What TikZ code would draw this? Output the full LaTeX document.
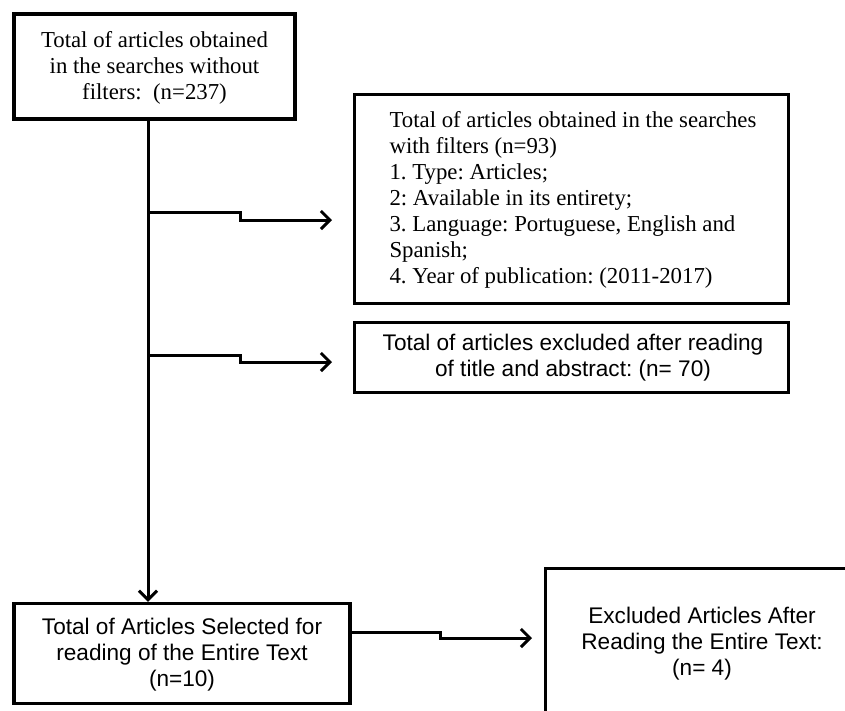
\documentclass[tikz,border=0pt]{standalone}
\usepackage{fontspec}
\setmainfont{Liberation Serif}
\newfontfamily\arialf{Liberation Sans}
\usetikzlibrary{arrows.meta}
\tikzset{
  box/.style={draw=black, fill=white, rectangle, inner sep=0pt, line width=3pt},
  serift/.style={font=\frenchspacing\fontsize{22.8}{26}\selectfont, align=center},
  sanst/.style={font=\frenchspacing\arialf\fontsize{22.6}{26}\selectfont, align=center},
  conn/.style={line width=3pt, line join=miter},
  arr/.style={conn, -{Straight Barb[length=9pt,width=18pt,line width=3pt]}},
}
\begin{document}
\begin{tikzpicture}[x=1pt,y=-1pt]
\useasboundingbox (0,0) rectangle (845,710);
\clip (0,0) rectangle (845,710);
\node[box, line width=4pt, minimum width=281pt, minimum height=105pt] (b1) at (154.5,66.5) {};
\node[serift] (t1) at (154.5,68) {Total of articles obtained\\in the searches without\\filters:\ \ (n=237)};

\node[box, minimum width=434pt, minimum height=209pt] (b2) at (571,198.5) {};
\node[serift, align=left, anchor=west] (t2) at (386,200) {Total of articles obtained in the searches\\with filters (n=93)\\1. Type: Articles;\\2: Available in its entirety;\\3. Language: Portuguese, English and\\Spanish;\\4. Year of publication: (2011-2017)};

\node[box, minimum width=434pt, minimum height=70pt] (b3) at (571,357) {};
\node[sanst] (t3) at (573,358) {Total of articles excluded after reading\\of title and abstract: (n= 70)};

\node[box, line width=3.5pt, minimum width=336pt, minimum height=100pt] (b4) at (182,653.5) {};
\node[sanst] (t4) at (182,655) {Total of Articles Selected for\\reading of the Entire Text\\(n=10)};

\node[box, minimum width=315pt, minimum height=150pt] (b5) at (702.5,643) {};
\node[sanst] (t5) at (702,644) {Excluded Articles After\\Reading the Entire Text:\\(n= 4)};

\coordinate (vx) at (148,0);
\draw[arr] (b1.south -| vx) -- (b4.north -| vx);

\coordinate (s1) at (148,212);
\coordinate (e1) at (332,220);
\draw[arr] (s1) -- (240,212) -- (240,220) -- (e1);

\coordinate (s2) at (148,355);
\coordinate (e2) at (332,362);
\draw[arr] (s2) -- (240,355) -- (240,362) -- (e2);

\coordinate (s3) at (350,632);
\coordinate (e3) at (532,638);
\draw[arr] (b4.east |- s3) -- (440,632) -- (440,638) -- (e3);
\end{tikzpicture}
\end{document}
